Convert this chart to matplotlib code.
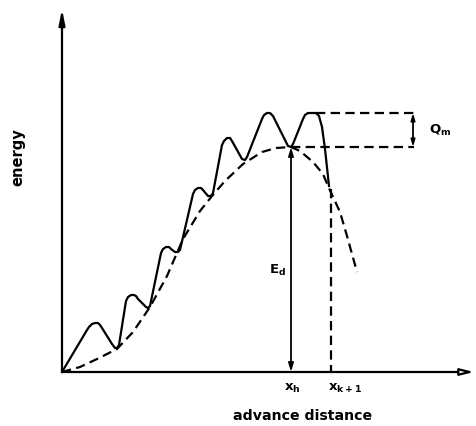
import matplotlib
matplotlib.use("Agg")
import matplotlib.pyplot as plt

# ---- data (distance / energy units; origin at axis corner) ----
solid_x = [0, 25, 27, 30, 33, 36, 38, 40, 50, 53, 55, 57,
           64, 66, 69, 72, 74, 76, 84, 86, 88,
           99, 101, 104, 107, 109, 113, 116, 118,
           131, 133, 136, 139, 141, 146, 149, 151,
           160, 162, 165, 168, 170, 180, 183, 185,
           200, 202, 205, 208, 211, 226, 229, 231,
           241, 243, 246, 250, 254, 257, 260, 263, 267]
solid_y = [0, 42, 45, 48, 49, 49, 47, 44, 28, 24, 24, 27,
           71, 75, 77, 77, 76, 73, 65, 64, 66,
           119, 123, 125, 125, 123, 120, 120, 122,
           178, 182, 184, 184, 182, 176, 176, 179,
           227, 231, 234, 234, 231, 213, 212, 215,
           253, 257, 259, 259, 256, 226, 225, 228,
           253, 257, 259, 259, 259, 256, 245, 223, 186]
dashed_x = [0, 18, 35, 55, 71, 88, 105, 121, 138, 150, 163, 181, 200, 214, 229, 238,
            251, 261, 266, 278, 285, 295]
dashed_y = [0, 5, 13, 23, 40, 65, 96, 133, 161, 176, 191, 208, 220, 224, 225, 221,
            210, 198, 186, 160, 136, 100]
x_h = 229
x_k1 = 269
E_d = 225
Q_top = 259
Q_start = 254
guide_end = 352
x_axis_end = 412
y_axis_end = 363

tick_labels = [r"x$_\mathbf{h}$", r"x$_\mathbf{k+1}$"]

plt.rcParams['mathtext.default'] = 'bf'

fig = plt.figure(figsize=(4.76, 4.27), dpi=100)
ax = fig.add_axes([0, 0, 1, 1])
ax.set_xlim(-62, 414)
ax.set_ylim(-54, 373)
ax.axis('off')

lw = 1.6
dash = (0, (4.2, 2.4))
# axes with arrows
ax.annotate('', xy=(0, y_axis_end), xytext=(0, 0),
            arrowprops=dict(arrowstyle='-|>,head_width=0.18,head_length=0.9',
                            lw=lw, color='black', shrinkA=0, shrinkB=0))
ax.annotate('', xy=(x_axis_end, 0), xytext=(0, 0),
            arrowprops=dict(arrowstyle='-|>,head_width=0.2,head_length=0.8',
                            lw=lw, color='black', fc='white', shrinkA=0, shrinkB=0))

# curves
ax.plot(solid_x, solid_y, color='black', lw=lw, solid_joinstyle='round')
ax.plot(dashed_x, dashed_y, color='black', lw=lw, ls=dash)

# vertical dashed at x_{k+1}
ax.plot([x_k1, x_k1], [solid_y[-1] - 3, 0], color='black', lw=lw, ls=dash)

# E_d double arrow
ax.annotate('', xy=(x_h, E_d), xytext=(x_h, 0),
            arrowprops=dict(arrowstyle='<|-|>,head_width=0.15,head_length=0.5',
                            lw=1.3, color='black', shrinkA=0, shrinkB=0))

# Q_m guide lines
ax.plot([Q_start, guide_end], [Q_top, Q_top], color='black', lw=lw, ls=dash)
ax.plot([x_h, guide_end], [E_d, E_d], color='black', lw=lw, ls=dash)
ax.annotate('', xy=(guide_end - 1, Q_top), xytext=(guide_end - 1, E_d),
            arrowprops=dict(arrowstyle='<|-|>,head_width=0.12,head_length=0.4',
                            lw=1.3, color='black', shrinkA=0, shrinkB=0))

tf = dict(family='DejaVu Sans', weight='bold', color='black')
ax.text(367, 243, r"Q$_\mathbf{m}$", fontsize=9.5, va='center', ha='left', **tf)
ax.text(215, 103, r"E$_\mathbf{d}$", fontsize=9.5, va='center', ha='center', **tf)
ax.text(x_h + 1, -15, tick_labels[0], fontsize=9.5, va='center', ha='center', **tf)
ax.text(x_k1 + 14, -15, tick_labels[1], fontsize=9.5, va='center', ha='center', **tf)
ax.text(241, -43, "advance distance", fontsize=10.2, va='center', ha='center', **tf)
ax.text(-44, 216, "energy", fontsize=10.5, va='center', ha='center', rotation=90, **tf)

fig.savefig("out.png", dpi=100)
